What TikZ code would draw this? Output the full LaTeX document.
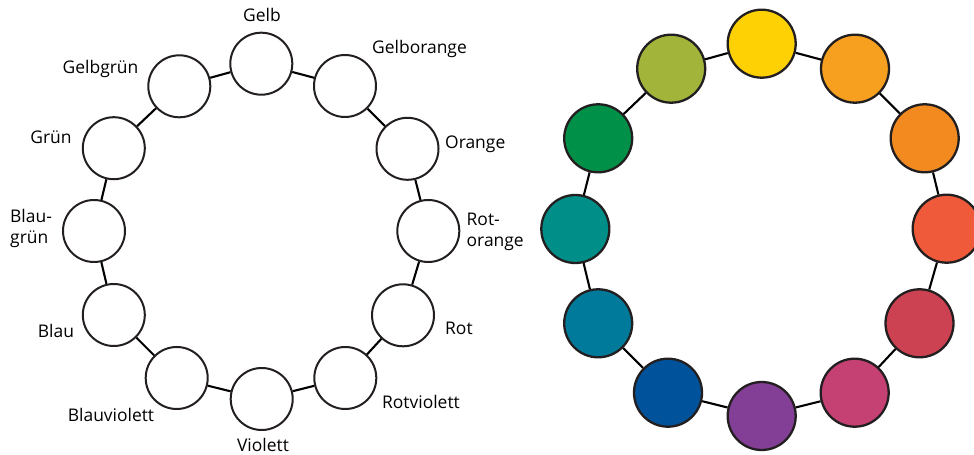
\documentclass[tikz,border=0pt]{standalone}
\usepackage{fontspec}
\setmainfont{Open Sans}
\definecolor{cGelb}{HTML}{FDD104}
\definecolor{cGelborange}{HTML}{F7A01F}
\definecolor{cOrange}{HTML}{F28A20}
\definecolor{cRotorange}{HTML}{EF5B3A}
\definecolor{cRot}{HTML}{CD4252}
\definecolor{cRotviolett}{HTML}{C54073}
\definecolor{cViolett}{HTML}{833F95}
\definecolor{cBlauviolett}{HTML}{00529B}
\definecolor{cBlau}{HTML}{007A9A}
\definecolor{cBlaugruen}{HTML}{008E89}
\definecolor{cGruen}{HTML}{009048}
\definecolor{cGelbgruen}{HTML}{A2B43A}
\definecolor{outl}{HTML}{231F20}
\begin{document}
\begin{tikzpicture}[x=1bp,y=-1bp,
  lring/.style={circle,draw=outl,line width=2bp,fill=white,minimum size=62bp,inner sep=0pt},
  rring/.style={circle,draw=outl,line width=2.3bp,minimum size=68bp,inner sep=0pt},
  link/.style={draw=black,line width=2.1bp},
  lab/.style={font=\fontsize{17.5}{21}\selectfont,inner sep=0pt,text=black,anchor=base}]
\useasboundingbox (0,0) rectangle (974,455);
% left wheel
\node[lring] (L0) at (261.3,63.7) {};
\node[lring] (L1) at (345,86) {};
\node[lring] (L2) at (407.5,148.8) {};
\node[lring] (L3) at (428.3,231) {};
\node[lring] (L4) at (403,315.3) {};
\node[lring] (L5) at (345.3,378) {};
\node[lring] (L6) at (261.7,399) {};
\node[lring] (L7) at (176.7,378) {};
\node[lring] (L8) at (113.8,315) {};
\node[lring] (L9) at (94,231) {};
\node[lring] (L10) at (113.8,148.2) {};
\node[lring] (L11) at (179.3,86.3) {};
\foreach \a/\b in {L0/L1,L1/L2,L2/L3,L3/L4,L4/L5,L5/L6,L6/L7,L7/L8,L8/L9,L9/L10,L10/L11,L11/L0}
  \draw[link] (\a) -- (\b);
% right wheel
\node[rring,fill=cGelb] (R0) at (761.7,43.7) {};
\node[rring,fill=cGelborange] (R1) at (855,68.7) {};
\node[rring,fill=cOrange] (R2) at (924.7,138.3) {};
\node[rring,fill=cRotorange] (R3) at (946.7,228.7) {};
\node[rring,fill=cRot] (R4) at (919.5,323.3) {};
\node[rring,fill=cRotviolett] (R5) at (854.7,392.7) {};
\node[rring,fill=cViolett] (R6) at (761.7,416) {};
\node[rring,fill=cBlauviolett] (R7) at (668,392.7) {};
\node[rring,fill=cBlau] (R8) at (598.2,323.3) {};
\node[rring,fill=cBlaugruen] (R9) at (575.3,229) {};
\node[rring,fill=cGruen] (R10) at (598.2,138.3) {};
\node[rring,fill=cGelbgruen] (R11) at (671.2,68.7) {};
\foreach \a/\b in {R0/R1,R1/R2,R2/R3,R3/R4,R4/R5,R5/R6,R6/R7,R7/R8,R8/R9,R9/R10,R10/R11,R11/R0}
  \draw[link] (\a) -- (\b);
% labels
\node[lab] (tGelb) at (262,21.7) {Gelb};
\node[lab] (tGelborange) at (419.5,54) {Gelborange};
\node[lab,anchor=base west] (tOrange) at (445,148.3) {Orange};
\node[lab,anchor=north west,align=left] (tRotorange) at (466.5,212.5) {Rot-\\orange};
\node[lab,anchor=base west] (tRot) at (445,334.7) {Rot};
\node[lab] (tRotviolett) at (421,408) {Rotviolett};
\node[lab] (tViolett) at (263,451) {Violett};
\node[lab] (tBlauviolett) at (111,421) {Blauviolett};
\node[lab] (tBlau) at (56,338) {Blau};
\node[lab,anchor=north west,align=left] (tBlaugruen) at (10,209.5) {Blau-\\grün};
\node[lab] (tGruen) at (51,143.3) {Grün};
\node[lab] (tGelbgruen) at (100.5,74) {Gelbgrün};
\end{tikzpicture}
\end{document}
